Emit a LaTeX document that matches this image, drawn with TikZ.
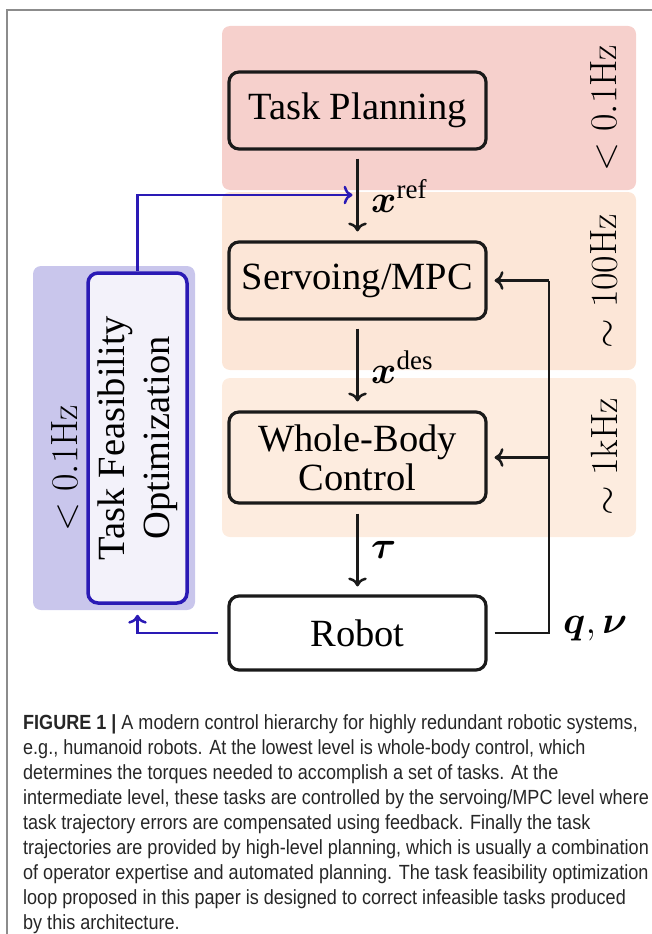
\RequirePackage{fix-cm}
\documentclass[tikz,border=0pt]{standalone}
\usepackage{amsmath}
\usepackage[no-math]{fontspec}
\usetikzlibrary{arrows.meta}
\setmainfont{Liberation Serif}
\newfontfamily\capfont[FakeStretch=0.88]{Liberation Sans}
\newcommand\lmtext{\fontfamily{lmr}\selectfont}
\definecolor{bandred}{HTML}{F6D0CC}
\definecolor{bandpeach}{HTML}{FCE6D7}
\definecolor{bandpeachb}{HTML}{FDECDF}
\definecolor{bandblue}{HTML}{C9C6EC}
\definecolor{tffill}{HTML}{F3F2FA}
\definecolor{myblue}{HTML}{2A1AB5}
\definecolor{framegray}{HTML}{8C8C8C}
\definecolor{boxline}{HTML}{1A1A1A}
\definecolor{captext}{HTML}{262626}
\tikzset{
  band/.style={rounded corners=8pt, draw=none},
  blockbox/.style={draw=boxline, line width=3.2pt, rounded corners=10pt, inner sep=0pt,
    font=\fontsize{38.5}{39}\selectfont, align=center},
  conn/.style={draw=boxline, line width=2.5pt, -{To[scale=1.25]}},
  bconn/.style={draw=myblue, line width=2.5pt, -{To[scale=1.25]}},
  freqlab/.style={rotate=90, font=\fontsize{38}{44}\selectfont\lmtext, inner sep=0pt},
  mathlab/.style={anchor=base west, inner sep=0pt, font=\fontsize{38.5}{46}\selectfont},
  capline/.style={anchor=base west, inner sep=0pt, text=captext, font=\fontsize{20.5}{25}\selectfont\capfont},
}
\begin{document}
\begin{tikzpicture}[x=1pt,y=-1pt]
\useasboundingbox (0,0) rectangle (652,934);
% frame
\draw[framegray, line width=1.5pt] (7,934) -- (7,10) -- (652,10);
% bands
\fill[band, bandred] (222,26) rectangle (636,190);
\fill[band, bandpeach] (222,192) rectangle (636,370);
\fill[band, bandpeachb] (222,378) rectangle (636,537);
\fill[band, bandblue] (33,266) rectangle (195,610);
% boxes
\node[blockbox, minimum width=257pt, minimum height=77pt] (tp) at (357.5,110.5) {Task Planning};
\node[blockbox, minimum width=257pt, minimum height=77pt] (sm) at (357.5,280.5) {Servoing/MPC};
\node[blockbox, minimum width=257pt, minimum height=91pt, font=\fontsize{38.5}{39}\selectfont] (wbc) at (357.5,457.5) {Whole-Body\\Control};
\node[blockbox, fill=white, minimum width=257pt, minimum height=74pt] (rob) at (357.5,633) {Robot};
\node[blockbox, draw=myblue, line width=3.5pt, fill=tffill, minimum width=99pt, minimum height=330pt] (tf) at (137.5,438) {};
\node[rotate=90, align=center, inner sep=0pt, font=\fontsize{38.5}{45}\selectfont] (tftext) at (tf.center) {Task Feasibility\\Optimization};
% frequency labels
\node[freqlab] (f1) at (604,108) {$<0.1$Hz};
\node[freqlab] (f2) at (604,281) {$\sim100$Hz};
\node[freqlab] (f3) at (604,457) {$\sim1$kHz};
\node[freqlab] (f4) at (65,468) {$<0.1$Hz};
% vertical connectors
\draw[conn, shorten <=8pt, shorten >=9pt] (tp.south) -- (sm.north);
\draw[conn, shorten <=8pt, shorten >=9pt] (sm.south) -- (wbc.north);
\draw[conn, shorten <=9pt, shorten >=8pt] (wbc.south) -- (rob.north);
% feedback
\coordinate (fbtop) at (549,280.5);
\coordinate (fbmid) at (549,457.5);
\coordinate (fbbot) at (549,633);
\draw[draw=boxline, line width=2.5pt, shorten <=7pt] (rob.east) -- (fbbot) -- (fbtop);
\draw[conn, shorten >=7pt] (fbtop) -- (sm.east);
\draw[conn, shorten >=7pt] (fbmid) -- (wbc.east);
% blue connectors
\coordinate (bup) at (tf.north |- 0,195);
\coordinate (bin) at (tp.south |- 0,195);
\draw[bconn, shorten >=5pt] (tf.north) -- (bup) -- (bin);
\coordinate (bdown) at (tf.south |- rob.west);
\draw[bconn, shorten <=9pt, shorten >=10pt] (rob.west) -- (bdown) -- (tf.south);
% math labels
\node[mathlab] (xref) at (371,212) {$\boldsymbol{x}^{\text{ref}}$};
\node[mathlab] (xdes) at (371,383) {$\boldsymbol{x}^{\text{des}}$};
\node[mathlab] (tau) at (371,558) {$\boldsymbol{\tau}$};
\node[mathlab] (qnu) at (563,633) {$\boldsymbol{q},\boldsymbol{\nu}$};
% caption
\node[capline] (c1) at (23,729) {\textbf{FIGURE 1 |} A modern control hierarchy for highly redundant robotic systems,};
\node[capline] (c2) at (23,754) {e.g., humanoid robots. At the lowest level is whole-body control, which};
\node[capline] (c3) at (23,779) {determines the torques needed to accomplish a set of tasks. At the};
\node[capline] (c4) at (23,804) {intermediate level, these tasks are controlled by the servoing/MPC level where};
\node[capline] (c5) at (23,829) {task trajectory errors are compensated using feedback. Finally the task};
\node[capline] (c6) at (23,854) {trajectories are provided by high-level planning, which is usually a combination};
\node[capline] (c7) at (23,879) {of operator expertise and automated planning. The task feasibility optimization};
\node[capline] (c8) at (23,904) {loop proposed in this paper is designed to correct infeasible tasks produced};
\node[capline] (c9) at (23,929) {by this architecture.};
\end{tikzpicture}
\end{document}
